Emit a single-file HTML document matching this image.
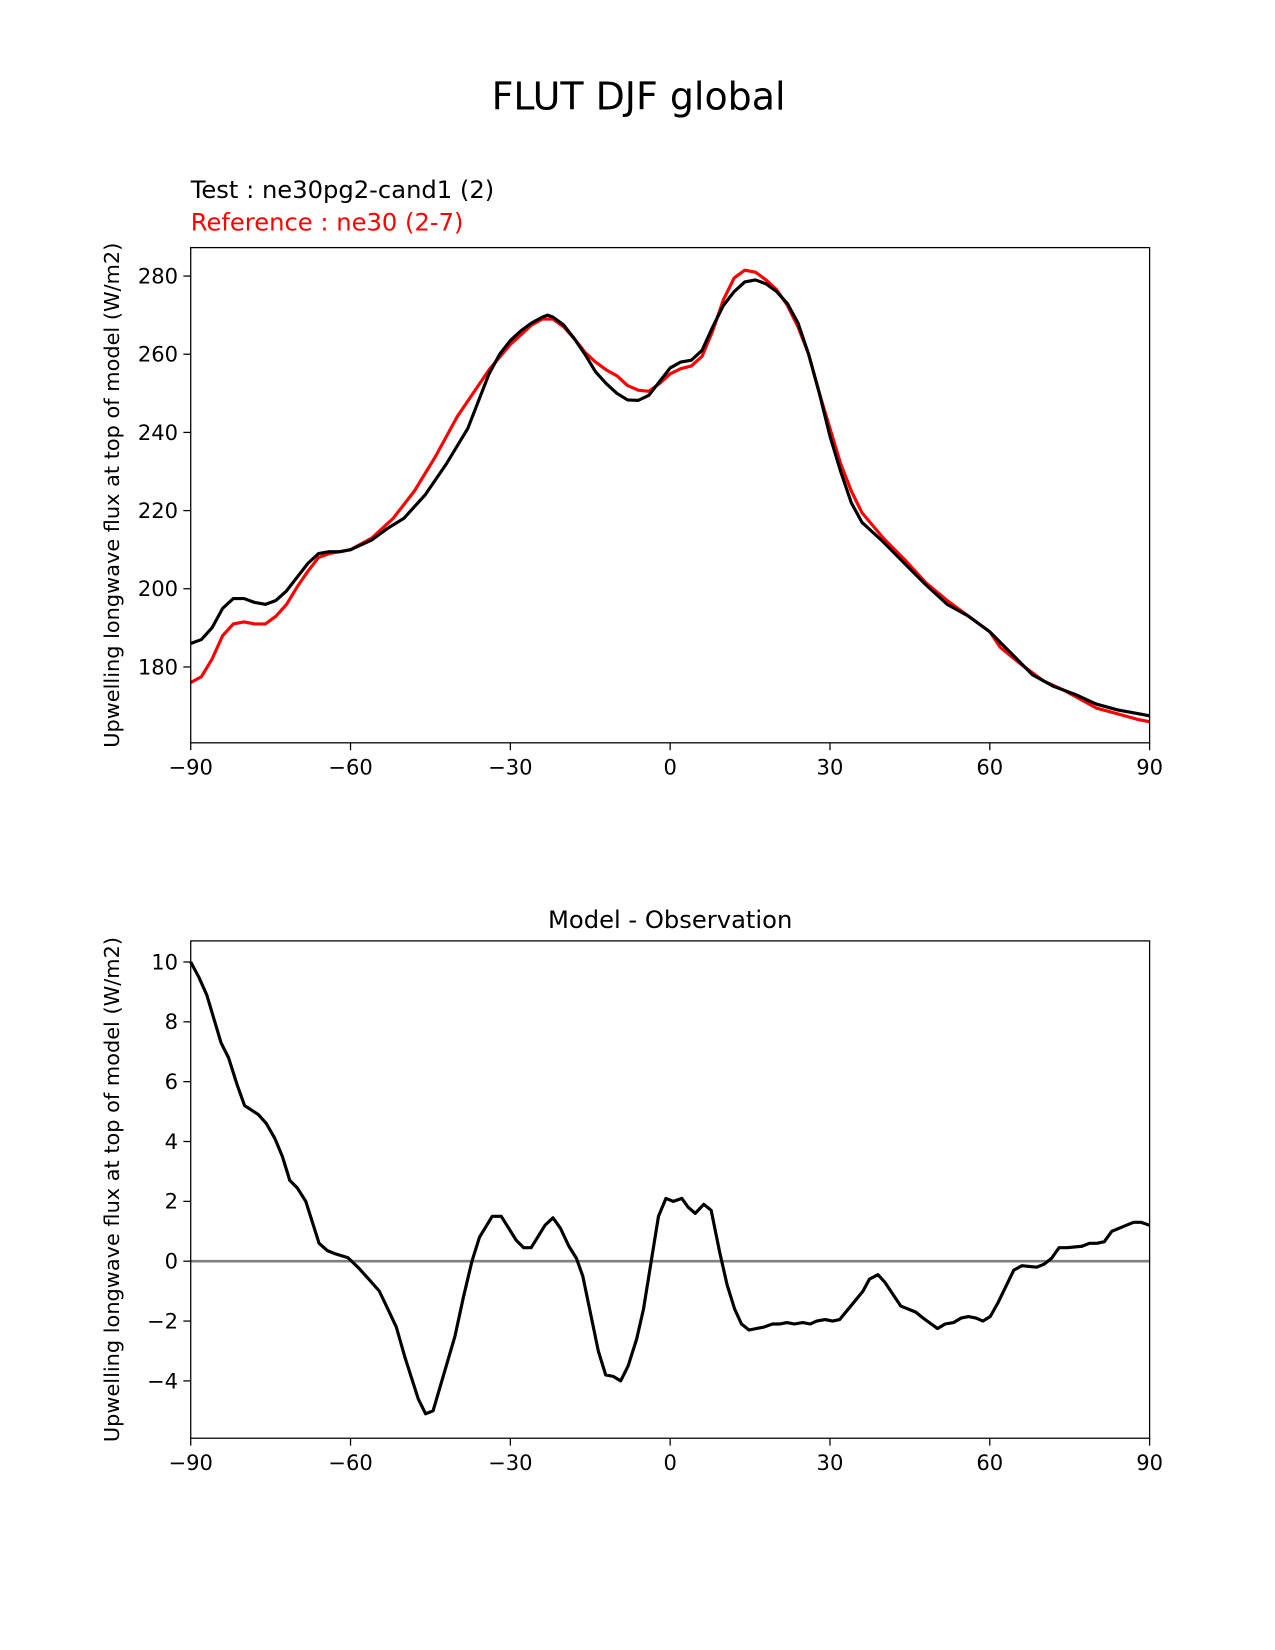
<!DOCTYPE html>
<html><head><meta charset="utf-8"><style>
body{margin:0;background:#fff;font-family:"DejaVu Sans","Liberation Sans",sans-serif}
svg{display:block}
svg text{font-family:"DejaVu Sans","Liberation Sans",sans-serif}
</style></head><body>
<svg id="fig" width="1275" height="1650" viewBox="0 0 1210 1566" preserveAspectRatio="none" xmlns="http://www.w3.org/2000/svg">
<rect width="1210" height="1566" fill="#fff"/>
<text x="606" y="104" font-size="36" text-anchor="middle">FLUT DJF global</text>
<text x="181" y="188" font-size="23">Test : ne30pg2-cand1 (2)</text>
<text x="181" y="219" font-size="23" fill="#ff0000">Reference : ne30 (2-7)</text>
<text x="636" y="881" font-size="23" text-anchor="middle">Model - Observation</text>
<g id="top"></g>
<g id="bot"></g>
</svg>
<script>
const xTicks=[-90,-60,-30,0,30,60,90];
const topYTicks=[180,200,220,240,260,280];
const botYTicks=[-4,-2,0,2,4,6,8,10];
const testLat=[-90,-88,-86,-84,-82,-80,-78,-76,-74,-72,-70,-68,-66,-64,-62,-60,-56,-53,-50,-46,-42,-38,-34,-32,-30,-28,-26,-24,-23,-22,-20,-18,-16,-14,-12,-10,-8,-6,-4,-2,0,2,4,6,8,10,12,14,16,18,20,22,24,26,28,30,32,34,36,40,44,48,52,56,60,64,68,72,76,80,84,88,90];
const testVal=[186,187,190,195,197.5,197.5,196.5,196,197,199.5,203,206.5,209,209.5,209.5,210,212.5,215.5,218,224,232,241,255,260,263.5,266,268,269.5,270,269.5,267.5,264,260,255.5,252.5,250,248.3,248.2,249.5,253,256.5,258,258.5,261,267,272.5,276,278.5,279,278,276,273,268,260,250,239,230,222,217,212,206.5,201,196,193,189,183.5,178,175,173,170.5,169,168,167.5];
const refLat=[-90,-88,-86,-84,-82,-80,-78,-76,-74,-72,-70,-68,-66,-64,-62,-60,-56,-52,-48,-44,-40,-36,-34,-30,-26,-24,-22,-20,-18,-16,-14,-12,-10,-8,-6,-4,-2,0,2,4,6,8,10,12,14,16,18,20,22,24,26,28,30,32,34,36,40,44,48,52,56,60,62,66,70,74,78,80,84,88,90];
const refVal=[176,177.5,182,188,191,191.5,191,191,193,196,200.5,204.5,208,209,209.5,210,213,218,225,234,244,252,256,262.5,267.5,269,269,267,264,260.5,258,256,254.5,252,250.8,250.5,252.5,255,256.3,257,259.5,266,274,279.5,281.5,281,279,276.5,272.5,267,260,250,241,232,225,219.5,213,207.5,201.5,197,193,189,185,180.5,176.5,174,171,169.5,168,166.5,166];
const diffLat=[-90,-88.5,-87,-84.3,-82.9,-81.3,-79.9,-77.3,-75.8,-74.2,-72.8,-71.4,-70,-68.4,-65.9,-64.3,-62.9,-60.5,-58.6,-56.6,-54.6,-53,-51.4,-49.8,-47.3,-45.9,-44.5,-40.4,-38.8,-37.2,-35.8,-33.4,-31.7,-28.9,-27.5,-26.1,-23.5,-22,-20.6,-19,-17.6,-16.4,-13.5,-12.1,-10.7,-9.3,-7.9,-6.3,-5,-2.2,-0.8,0.6,2.2,3.4,4.7,6.3,7.7,9.3,10.7,12.1,13.4,14.8,17.6,19.2,20.6,21.9,23.3,24.9,26.3,27.5,29.1,30.5,31.8,34.6,36.2,37.4,39,40.3,43.3,46.1,47.5,50.2,51.6,53.2,54.6,56,57.4,58.7,60.1,61.5,64.5,66,68.8,70.2,71.6,73,74.5,77.3,78.7,80.1,81.5,82.9,85.6,87,88.4,90];
const diffVal=[10,9.5,8.9,7.3,6.8,5.9,5.2,4.9,4.6,4.1,3.5,2.7,2.45,2.0,0.6,0.35,0.25,0.12,-0.2,-0.6,-1.0,-1.6,-2.2,-3.2,-4.6,-5.1,-5.0,-2.5,-1.2,0.0,0.8,1.5,1.5,0.7,0.45,0.45,1.2,1.45,1.1,0.5,0.1,-0.5,-3.0,-3.8,-3.85,-4.0,-3.5,-2.6,-1.6,1.5,2.1,2.0,2.1,1.8,1.6,1.9,1.7,0.3,-0.8,-1.6,-2.1,-2.3,-2.2,-2.1,-2.1,-2.05,-2.1,-2.05,-2.1,-2.0,-1.95,-2.0,-1.95,-1.35,-1.0,-0.6,-0.45,-0.7,-1.5,-1.7,-1.9,-2.25,-2.1,-2.05,-1.9,-1.85,-1.9,-2.0,-1.85,-1.4,-0.3,-0.15,-0.2,-0.1,0.1,0.45,0.45,0.5,0.6,0.6,0.65,1.0,1.2,1.3,1.3,1.2];
const NS="http://www.w3.org/2000/svg";
function mk(p,t,a){const e=document.createElementNS(NS,t);for(const k in a)e.setAttribute(k,a[k]);p.appendChild(e);return e;}
function axes(g,top,bot,yv0,yp0,yv1,yp1,yTicks,ylabel){
  const L=181,R=1091;
  const xs=v=>L+(v+90)/180*(R-L);
  const ys=v=>yp0+(v-yv0)/(yv1-yv0)*(yp1-yp0);
  xTicks.forEach(t=>{
    const x=xs(t);
    const tk=mk(g,'line',{x1:x,x2:x,y1:bot,y2:bot+7,stroke:'#000','stroke-width':1.2});
    
    
    const tx=mk(g,'text',{x:x,y:bot+30,'font-size':20,'text-anchor':'middle'});
    tx.textContent=(t<0?'\u2212'+(-t):String(t));
    
    
  });
  yTicks.forEach(t=>{
    const y=ys(t);
    const tk=mk(g,'line',{x1:L-7,x2:L,y1:y,y2:y,stroke:'#000','stroke-width':1.2});
    
    
    const tx=mk(g,'text',{x:L-12,y:y+7,'font-size':20,'text-anchor':'end'});
    tx.textContent=(t<0?'\u2212'+(-t):String(t));
    
    
  });
  const yl=mk(g,'text',{x:0,y:0,'font-size':19.8,'text-anchor':'middle',transform:`translate(113,${(top+bot)/2}) rotate(-90)`});
  yl.textContent=ylabel;
  
  
  return {xs,ys,L,R};
}
function line(g,a,lat,val,color,name){
  const d=lat.map((v,i)=>(i?'L':'M')+a.xs(v).toFixed(1)+','+a.ys(val[i]).toFixed(1)).join('');
  const p=mk(g,'path',{d:d,fill:'none',stroke:color,'stroke-width':3,'stroke-linejoin':'round'});
  
  
}
const ylab='Upwelling longwave flux at top of model (W/m2)';
const gt=document.getElementById('top');
const at=axes(gt,235,705,180,633,280,262,topYTicks,ylab);
const cp=mk(gt,'clipPath',{id:'ct'});
mk(cp,'rect',{x:181,y:235,width:910,height:470});
const gtl=mk(gt,'g',{'clip-path':'url(#ct)'});
line(gtl,at,refLat,refVal,'#ff0000','reference-line');
line(gtl,at,testLat,testVal,'#000000','test-line');
const f1=mk(gt,'rect',{x:181,y:235,width:910,height:470,fill:'none',stroke:'#000','stroke-width':1.2});


const gb=document.getElementById('bot');
const ab=axes(gb,893,1365,0,1197,10,913,botYTicks,ylab);
const z=mk(gb,'line',{x1:181,x2:1091,y1:ab.ys(0),y2:ab.ys(0),stroke:'#808080','stroke-width':2.5});


line(gb,ab,diffLat,diffVal,'#000000','difference-line');
const f2=mk(gb,'rect',{x:181,y:893,width:910,height:472,fill:'none',stroke:'#000','stroke-width':1.2});


</script>
</body></html>
